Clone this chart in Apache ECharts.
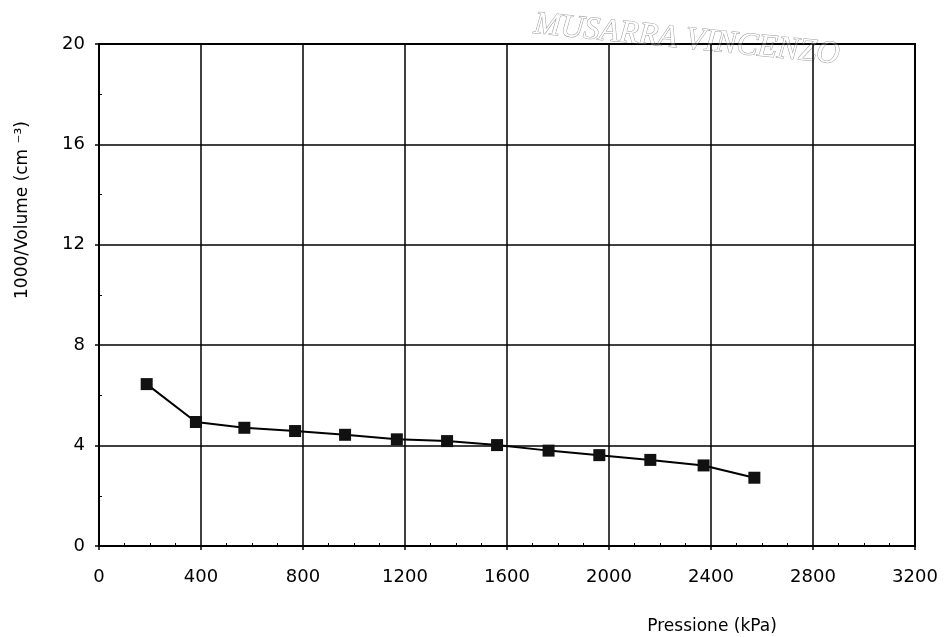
<!DOCTYPE html>
<html>
<head>
<meta charset="utf-8">
<script src="https://cdn.jsdelivr.net/npm/echarts@6/dist/echarts.min.js"></script>
<style>html,body{margin:0;padding:0;background:#fff}#c{width:945px;height:637px}</style>
</head>
<body>
<div id="c"></div>
<script>
var pressure = [187, 380, 570, 769, 965, 1168, 1365, 1561, 1763, 1962, 2162, 2371, 2570];
var invVolume = [6.45, 4.94, 4.71, 4.58, 4.43, 4.25, 4.18, 4.02, 3.80, 3.62, 3.43, 3.21, 2.72];
var xTitle = 'Pressione (kPa)';
var yTitle = '1000/Volume (cm \u207B\u00B3)';
var stamp = 'MUSARRA VINCENZO';

var chart = echarts.init(document.getElementById('c'));
var font = 'DejaVu Sans';
chart.setOption({
  animation: false,
  backgroundColor: '#fff',
  grid: {left: 99, right: 30, top: 44, bottom: 91, containLabel: false, outerBoundsMode: 'none',
    show: true, borderColor: '#000', borderWidth: 2},
  xAxis: {
    type: 'value', min: 0, max: 3200, interval: 400,
    axisLine: {show: true, onZero: false, lineStyle: {color: '#000', width: 2}},
    axisTick: {show: true, length: 4, lineStyle: {color: '#000', width: 1.5}},
    minorTick: {show: true, splitNumber: 4, length: -3, lineStyle: {color: '#000', width: 1}},
    splitLine: {show: true, lineStyle: {color: '#000', width: 1.5}},
    axisLabel: {color: '#000', fontFamily: font, fontSize: 18, margin: 22,
      formatter: function (v) { return String(v); }},
    name: xTitle, nameLocation: 'middle', nameGap: 72,
    nameTextStyle: {color: '#000', fontFamily: font, fontSize: 17, padding: [0, 0, 0, 410]}
  },
  yAxis: {
    type: 'value', min: 0, max: 20, interval: 4,
    axisLine: {show: true, onZero: false, lineStyle: {color: '#000', width: 2}},
    axisTick: {show: true, length: 4, lineStyle: {color: '#000', width: 1.5}},
    minorTick: {show: true, splitNumber: 2, length: -3, lineStyle: {color: '#000', width: 1}},
    splitLine: {show: true, lineStyle: {color: '#000', width: 1.5}},
    axisLabel: {color: '#000', fontFamily: font, fontSize: 18, margin: 14},
    name: yTitle, nameLocation: 'middle', nameGap: 68,
    nameTextStyle: {color: '#000', fontFamily: font, fontSize: 17, padding: [0, 0, 0, 170]}
  },
  graphic: [{
    type: 'text', left: 532, top: 8, rotation: -0.1,
    style: {text: stamp, font: 'italic 32px "Liberation Serif"', fill: '#fff', stroke: '#999', lineWidth: 1}
  }],
  series: [{
    type: 'line',
    data: pressure.map(function (p, i) { return [p, invVolume[i]]; }),
    symbol: 'rect', symbolSize: 12,
    lineStyle: {color: '#000', width: 2},
    itemStyle: {color: '#111'}
  }]
});
</script>
</body>
</html>
